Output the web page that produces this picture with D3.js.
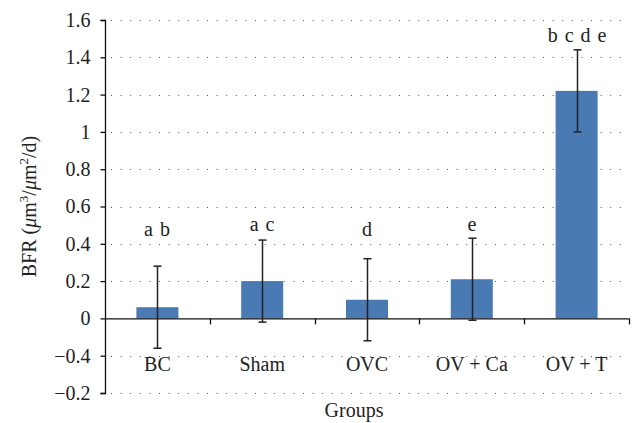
<!DOCTYPE html>
<html>
<head>
<meta charset="utf-8">
<script src="https://cdn.jsdelivr.net/npm/d3@7"></script>
<style>
  body { margin: 0; background: #fff; }
  svg text { font-family: "Liberation Serif", "DejaVu Serif", serif; fill: #222; }
</style>
</head>
<body>
<div id="chart"></div>
<script>
// data
var groups = ["BC", "Sham", "OVC", "OV + Ca", "OV + T"];
var bfr = [0.06, 0.20, 0.10, 0.21, 1.22];
var errs = [0.22, 0.22, 0.22, 0.22, 0.22];
var letters = ["a b", "a c", "d", "e", "b c d e"];
var letterAt = [0.44, 0.47, 0.44, 0.47, 1.48]; // baseline, in BFR units
var yTicks = [-0.4, -0.2, 0, 0.2, 0.4, 0.6, 0.8, 1, 1.2, 1.4, 1.6];
// the original labels the two negative ticks in this (swapped) order
var yTickLabels = ["\u22120.2", "\u22120.4", "0", "0.2", "0.4", "0.6", "0.8", "1", "1.2", "1.4", "1.6"];

var w = 635, h = 423;
var margin = {top: 20, right: 6, bottom: 30, left: 105};
var fs = "20px";

var svg = d3.select("#chart")
    .append("svg")
    .attr("width", w)
    .attr("height", h)
    .attr("font-family", "'Liberation Serif', serif");

var x = d3.scaleBand()
    .domain(groups)
    .range([margin.left, w - margin.right])
    .paddingInner(0)
    .paddingOuter(0);

var y = d3.scaleLinear()
    .domain([-0.4, 1.6])
    .range([h - margin.bottom, margin.top]);

var barW = 42;

// dotted grid
svg.append("g")
    .selectAll("line")
    .data(yTicks.filter(function(d) { return d !== 0; }))
    .enter()
    .append("line")
    .attr("x1", margin.left + 6)
    .attr("x2", w - margin.right)
    .attr("y1", function(d) { return Math.round(y(d)) + 0.5; })
    .attr("y2", function(d) { return Math.round(y(d)) + 0.5; })
    .attr("stroke", "#555")
    .attr("stroke-width", 1)
    .attr("stroke-dasharray", "1,8.6");

// bars
svg.selectAll("rect.bar")
    .data(bfr)
    .enter()
    .append("rect")
    .attr("class", "bar")
    .attr("x", function(d, i) { return x(groups[i]) + x.bandwidth() / 2 - barW / 2; })
    .attr("y", function(d) { return y(d); })
    .attr("width", barW)
    .attr("height", function(d) { return y(0) - y(d); })
    .attr("fill", "#4a7ab4");

// y axis
var yAxis = d3.axisLeft(y)
    .tickValues(yTicks)
    .tickSize(5)
    .tickPadding(10)
    .tickFormat(function(d, i) { return yTickLabels[i]; });

var gy = svg.append("g")
    .attr("transform", "translate(" + (margin.left + 0.5) + ",0)")
    .call(yAxis)
    .attr("font-family", null);
gy.select(".domain").attr("d", "M-5," + (y(1.6) + 0.5) + "H0V" + (y(-0.4) + 0.5) + "H-5")
    .attr("stroke", "#111").attr("stroke-width", 1.3);
gy.selectAll(".tick line").attr("stroke", "#111").attr("stroke-width", 1.3);
gy.selectAll(".tick text")
    .attr("font-size", fs)
    .attr("fill", "#222");

// x axis along zero
var bounds = groups.map(function(g) { return x(g); }).concat([w - margin.right]);
var gx = svg.append("g");
gx.append("line")
    .attr("x1", margin.left)
    .attr("x2", w - margin.right)
    .attr("y1", y(0) + 0.5)
    .attr("y2", y(0) + 0.5)
    .attr("stroke", "#111")
    .attr("stroke-width", 1.3);
gx.selectAll("line.tk")
    .data(bounds.slice(1))
    .enter()
    .append("line")
    .attr("class", "tk")
    .attr("x1", function(d) { return Math.round(d) + 0.5; })
    .attr("x2", function(d) { return Math.round(d) + 0.5; })
    .attr("y1", y(0))
    .attr("y2", y(0) + 6)
    .attr("stroke", "#111")
    .attr("stroke-width", 1.3);

// category labels
svg.selectAll("text.cat")
    .data(groups)
    .enter()
    .append("text")
    .attr("class", "cat")
    .attr("x", function(d) { return x(d) + x.bandwidth() / 2; })
    .attr("y", y(-0.2) + 15)
    .attr("text-anchor", "middle")
    .attr("font-size", fs)
    .text(function(d) { return d; });

// error bars
var eb = svg.append("g").selectAll("g")
    .data(bfr)
    .enter()
    .append("g")
    .attr("transform", function(d, i) {
        return "translate(" + (Math.round(x(groups[i]) + x.bandwidth() / 2) + 0.5) + ",0)";
    });
eb.append("line")
    .attr("y1", function(d, i) { return y(d + errs[i]); })
    .attr("y2", function(d, i) { return y(d - errs[i]); })
    .attr("stroke", "#222").attr("stroke-width", 1.5);
eb.append("line")
    .attr("x1", -4).attr("x2", 4)
    .attr("y1", function(d, i) { return y(d + errs[i]); })
    .attr("y2", function(d, i) { return y(d + errs[i]); })
    .attr("stroke", "#222").attr("stroke-width", 1.5);
eb.append("line")
    .attr("x1", -4).attr("x2", 4)
    .attr("y1", function(d, i) { return y(d - errs[i]); })
    .attr("y2", function(d, i) { return y(d - errs[i]); })
    .attr("stroke", "#222").attr("stroke-width", 1.5);

// significance letters
eb.append("text")
    .attr("y", function(d, i) { return y(letterAt[i]); })
    .attr("text-anchor", "middle")
    .attr("font-size", fs)
    .attr("letter-spacing", "1px")
    .text(function(d, i) { return letters[i]; });

// axis titles
svg.append("text")
    .attr("x", 354)
    .attr("y", 417)
    .attr("text-anchor", "middle")
    .attr("font-size", fs)
    .text("Groups");

var yt = svg.append("text")
    .attr("transform", "translate(36," + y(0.6) + ") rotate(-90)")
    .attr("text-anchor", "middle")
    .attr("font-size", fs);
yt.append("tspan").text("BFR (");
yt.append("tspan").attr("font-style", "italic").text("\u03bc");
yt.append("tspan").text("m");
yt.append("tspan").attr("font-size", "13px").attr("dy", "-8").text("3");
yt.append("tspan").attr("dy", "8").text("/");
yt.append("tspan").attr("font-style", "italic").text("\u03bc");
yt.append("tspan").text("m");
yt.append("tspan").attr("font-size", "13px").attr("dy", "-8").text("2");
yt.append("tspan").attr("dy", "8").text("/d)");
</script>
</body>
</html>
